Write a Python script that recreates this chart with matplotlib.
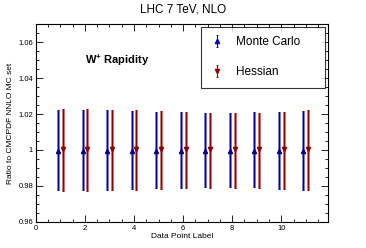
import matplotlib
matplotlib.use("Agg")
import matplotlib.pyplot as plt
from matplotlib.ticker import MultipleLocator, FormatStrFormatter
import numpy as np

plt.rcParams['font.family'] = ['Liberation Sans', 'DejaVu Sans']
plt.rcParams['mathtext.fontset'] = 'custom'
plt.rcParams['mathtext.rm'] = 'Liberation Sans'
plt.rcParams['mathtext.bf'] = 'Liberation Sans:bold'

# data points (ratio to CMCPDF NNLO MC set)
points = [1, 2, 3, 4, 5, 6, 7, 8, 9, 10, 11]
mc_central = [0.9997] * 11
mc_upper = [1.0224, 1.0224, 1.0221, 1.0219, 1.0213, 1.0209, 1.0208, 1.0208, 1.0209, 1.0213, 1.0219]
mc_lower = [0.9775, 0.9775, 0.9778, 0.9782, 0.9786, 0.9790, 0.9792, 0.9793, 0.9792, 0.9784, 0.9778]
hes_central = [1.0003] * 11
hes_upper = [1.0228, 1.0226, 1.0223, 1.0221, 1.0215, 1.0213, 1.0208, 1.0208, 1.0208, 1.0213, 1.0221]
hes_lower = [0.9771, 0.9773, 0.9777, 0.9780, 0.9784, 0.9790, 0.9790, 0.9790, 0.9790, 0.9784, 0.9777]

fig = plt.figure(figsize=(3.66, 2.48), dpi=100)
ax = fig.add_axes([0.098, 0.105, 0.798, 0.798])

x = np.array(points, dtype=float)


def draw(xs, c, up, lo, light, dark, marker, label):
    c = np.array(c)
    yerr = [c - np.array(lo), np.array(up) - c]
    ax.errorbar(xs, c, yerr=yerr, fmt='none', ecolor=light, elinewidth=2.0,
                capsize=0, zorder=2)
    return ax.errorbar(xs, c, yerr=yerr, fmt=marker, color=dark, ecolor=dark,
                       elinewidth=0.8, markersize=3.0, capsize=1.0,
                       capthick=0.6, label=label, zorder=3)


h1 = draw(x - 0.1, mc_central, mc_upper, mc_lower, '#7878d0', '#000090', '^', 'Monte Carlo')
h2 = draw(x + 0.1, hes_central, hes_upper, hes_lower, '#cc7070', '#8c0000', 'v', 'Hessian')

ax.set_xlim(0, 11.9)
ax.set_ylim(0.96, 1.07)
ax.xaxis.set_major_locator(MultipleLocator(2))
ax.xaxis.set_minor_locator(MultipleLocator(0.5))
ax.yaxis.set_major_locator(MultipleLocator(0.02))
ax.yaxis.set_minor_locator(MultipleLocator(0.005))
ax.yaxis.set_major_formatter(FormatStrFormatter('%g'))
ax.tick_params(which='both', direction='in', top=True, right=True,
               labelsize=5.5, width=0.6, pad=2)
ax.tick_params(which='major', length=5)
ax.tick_params(which='minor', length=2.5)
for s in ax.spines.values():
    s.set_linewidth(0.8)

ax.set_xlabel('Data Point Label', fontsize=6, labelpad=1)
ax.set_ylabel('Ratio to CMCPDF NNLO MC set', fontsize=6, labelpad=3)
fig.suptitle('LHC 7 TeV, NLO', fontsize=8.5, y=0.985)

ax.text(0.277, 0.818, r'$\mathbf{W^{+}}$ Rapidity', transform=ax.transAxes,
        fontsize=8, fontweight='bold', ha='center', va='center')

leg = ax.legend(handles=[h1, h2], loc='upper left',
                bbox_to_anchor=(0.565, 0.662, 0.425, 0.323), mode='expand',
                fontsize=8.5, frameon=True, fancybox=False, edgecolor='black',
                handlelength=1.2, labelspacing=1.5, borderpad=0.8,
                handletextpad=1.0, borderaxespad=0)
leg.get_frame().set_linewidth(0.8)

fig.savefig('out.png', dpi=100)
